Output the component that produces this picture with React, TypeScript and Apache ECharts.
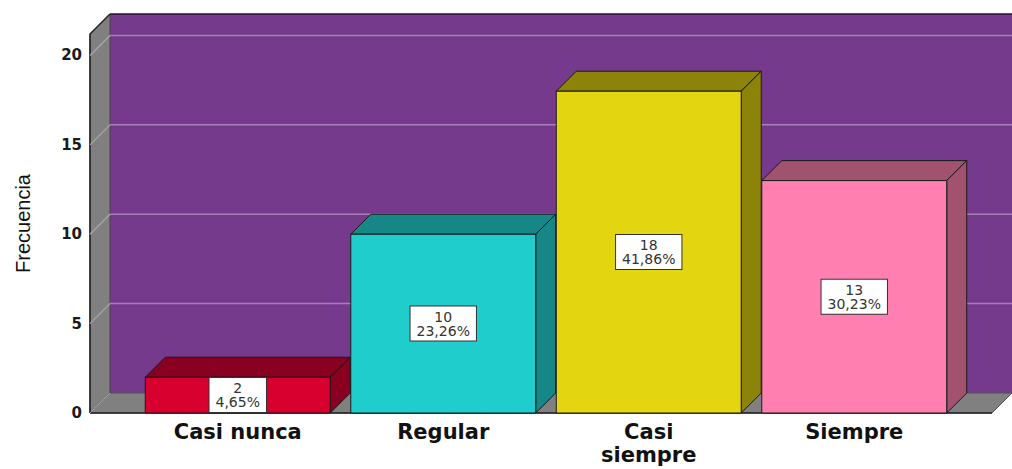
import React, { useEffect, useRef } from "react";
import * as echarts from "echarts";

const CATEGORIES = ["Casi nunca", "Regular", "Casi\nsiempre", "Siempre"];
const FREQUENCIES = [2, 10, 18, 13];
const Y_MIN = 0;
const Y_MAX = 21.2;
const Y_INTERVAL = 5;
const GRID_VALUES = [5, 10, 15, 20];
const FRONT_COLORS = ["#D8002F", "#1FCDCD", "#E3D510", "#FF80B0"];
const SHADE_COLORS = ["#8A0020", "#178686", "#8C840A", "#A1526E"];
const Y_NAME = "Frecuencia";

const DEPTH = 20;
const TOTAL = FREQUENCIES.reduce((a, b) => a + b, 0);

function pct(v: number) {
  return ((v / TOTAL) * 100).toFixed(2).replace(".", ",") + "%";
}

export default function App() {
  const ref = useRef<HTMLDivElement>(null);
  useEffect(() => {
    if (!ref.current) return;
    const chart = echarts.init(ref.current, null, { renderer: "svg" });
    const option: any = {
      animation: false,
      backgroundColor: "#ffffff",
      grid: {
        left: 135,
        right: 55,
        top: 34,
        bottom: 56,
        containLabel: false,
        outerBoundsMode: "none",
      },
      xAxis: {
        type: "category",
        data: CATEGORIES,
        axisLine: { show: false },
        axisTick: { show: false },
        splitLine: { show: false },
        axisLabel: {
          fontFamily: "DejaVu Sans",
          fontWeight: "bold",
          fontSize: 21,
          lineHeight: 23,
          color: "#111111",
          margin: 7,
        },
      },
      yAxis: {
        type: "value",
        min: Y_MIN,
        max: Y_MAX,
        interval: Y_INTERVAL,
        offset: 45,
        name: Y_NAME,
        nameLocation: "middle",
        nameRotate: 90,
        nameGap: 57,
        nameTextStyle: {
          fontFamily: "'Liberation Sans', Arial, sans-serif",
          fontSize: 20,
          color: "#111111",
        },
        axisLine: { show: false },
        axisTick: { show: false },
        splitLine: { show: false },
        axisLabel: {
          showMaxLabel: false,
          fontFamily: "DejaVu Sans",
          fontWeight: "bold",
          fontSize: 15,
          color: "#1a1a1a",
          margin: 8,
          formatter: (v: number) => (v % Y_INTERVAL === 0 ? String(v) : ""),
        },
      },
      series: [
        {
          type: "custom",
          z: 1,
          silent: true,
          clip: false,
          data: [[0, 0]],
          encode: { x: 0, y: 1 },
          renderItem: (params: any, api: any) => {
            const cs = params.coordSys;
            const D = DEPTH;
            const L = cs.x - 45;
            const R = cs.x + cs.width + 35;
            const yb = api.coord([0, Y_MIN])[1];
            const yt = api.coord([0, Y_MAX])[1];
            const children: any[] = [
              {
                type: "rect",
                shape: { x: L + D, y: yt - D, width: R - L + 40, height: yb - yt },
                style: { fill: "#763A8C", stroke: "none" },
              },
              {
                type: "line",
                shape: { x1: L + D, y1: yt - D, x2: R + D + 40, y2: yt - D },
                style: { stroke: "#2a0f33", lineWidth: 1.5 },
              },
              {
                type: "polygon",
                shape: { points: [[L, yb], [L, yt], [L + D, yt - D], [L + D, yb - D]] },
                style: { fill: "#808080", stroke: "#444444", lineWidth: 1 },
              },
              {
                type: "polygon",
                shape: { points: [[L, yb], [R, yb], [R + D, yb - D], [L + D, yb - D]] },
                style: { fill: "#808080", stroke: "#555555", lineWidth: 1 },
              },
              {
                type: "line",
                shape: { x1: L, y1: yb, x2: R, y2: yb },
                style: { stroke: "#222222", lineWidth: 1.5 },
              },
              {
                type: "polyline",
                shape: { points: [[L, yb], [L, yt], [L + D, yt - D]] },
                style: { stroke: "#222222", lineWidth: 1.5, fill: "none" },
              },
              {
                type: "line",
                shape: { x1: L, y1: yb, x2: L + D, y2: yb - D },
                style: { stroke: "#9a9a9a", lineWidth: 1 },
              },
            ];
            GRID_VALUES.forEach((v) => {
              const y = api.coord([0, v])[1];
              children.push({
                type: "line",
                shape: { x1: L, y1: y, x2: L + D, y2: y - D },
                style: { stroke: "#a8a8a8", lineWidth: 1.2 },
              });
              children.push({
                type: "line",
                shape: { x1: L + D, y1: y - D, x2: R + D + 40, y2: y - D },
                style: { stroke: "#A184B4", lineWidth: 1.5 },
              });
            });
            return { type: "group", children };
          },
        },
        {
          type: "custom",
          z: 2,
          clip: false,
          data: FREQUENCIES.map((v, i) => [i, v]),
          encode: { x: 0, y: 1 },
          renderItem: (params: any, api: any) => {
            const idx = api.value(0);
            const val = api.value(1);
            const D = DEPTH;
            const p0 = api.coord([idx, 0]);
            const p1 = api.coord([idx, val]);
            const band = api.size([1, 0])[0];
            const w = band * 0.9;
            const x0 = p0[0] - w / 2;
            const x1 = x0 + w;
            const yb = p0[1];
            const yt = p1[1];
            const front = FRONT_COLORS[idx];
            const shade = SHADE_COLORS[idx];
            const edge = { stroke: "#1a1a1a", lineWidth: 1 };
            return {
              type: "group",
              children: [
                {
                  type: "polygon",
                  shape: { points: [[x0, yt], [x0 + D, yt - D], [x1 + D, yt - D], [x1, yt]] },
                  style: { fill: shade, ...edge },
                },
                {
                  type: "polygon",
                  shape: { points: [[x1, yt], [x1 + D, yt - D], [x1 + D, yb - D], [x1, yb]] },
                  style: { fill: shade, ...edge },
                },
                {
                  type: "rect",
                  shape: { x: x0, y: yt, width: w, height: yb - yt },
                  style: { fill: front, ...edge },
                },
                {
                  type: "text",
                  style: {
                    text: String(val) + "\n" + pct(val),
                    x: p0[0],
                    y: (yt + yb) / 2,
                    align: "center",
                    verticalAlign: "middle",
                    fill: "#333333",
                    fontFamily: "DejaVu Sans",
                    fontSize: 14,
                    lineHeight: 14,
                    backgroundColor: "#ffffff",
                    borderColor: "#333333",
                    borderWidth: 1,
                    padding: [3, 6],
                  },
                },
              ],
            };
          },
        },
      ],
    };
    chart.setOption(option);
    return () => chart.dispose();
  }, []);
  return (
    <div
      ref={ref}
      style={{ position: "fixed", left: 0, top: 0, width: 1012, height: 469 }}
    />
  );
}
